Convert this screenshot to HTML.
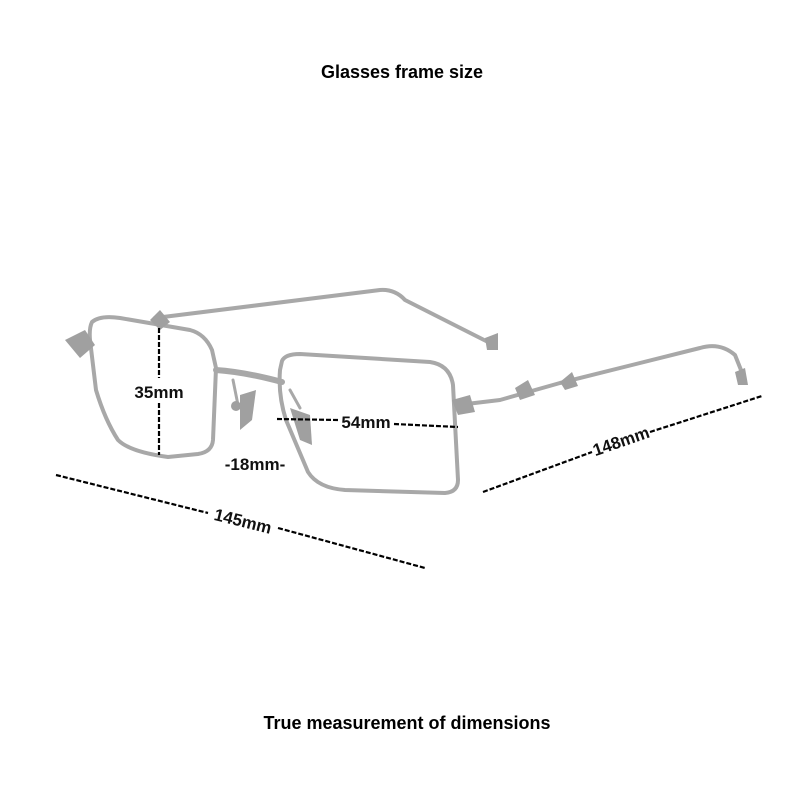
<!DOCTYPE html>
<html><head><style>
body{margin:0;background:#fff;}
svg{display:block;font-family:"Liberation Sans",sans-serif;font-weight:bold;}
</style></head><body>
<svg width="800" height="800" viewBox="0 0 800 800">
<text x="402" y="78" font-size="18" text-anchor="middle">Glasses frame size</text>
<text x="407" y="729" font-size="18" text-anchor="middle">True measurement of dimensions</text>
<g fill="none" stroke="#a8a8a8" stroke-width="4" stroke-linejoin="round" stroke-linecap="round">
<path d="M155,318 L380,290 Q395,289 405,300 L490,343"/>
<path d="M92,322 Q100,315 120,318 L190,330 Q205,334 212,350 L216,368 L213,440 Q212,452 198,454 L168,457 Q130,452 118,440 Q105,420 96,390 L90,340 Q89,328 92,322 Z"/>
<path d="M282,361 Q285,354 300,354 L430,362 Q450,365 453,385 L458,480 Q458,492 445,493 L345,490 Q318,488 308,472 L286,420 Q278,395 280,370 Z"/>
<path d="M216,370 Q245,372 282,382" stroke-width="6"/>
<path d="M458,405 L500,400 L560,383 L700,348 Q720,342 735,355 L745,380"/>
<path d="M233,380 L238,405" stroke-width="3"/>
<path d="M290,390 L300,408" stroke-width="3"/>
</g>
<g fill="#a0a0a0">
<path d="M65,340 L85,330 L95,345 L80,358 Z"/>
<path d="M150,320 L160,310 L170,322 L160,330 Z"/>
<path d="M240,395 L256,390 L252,420 L240,430 Z"/>
<path d="M290,408 L310,415 L312,445 L300,440 Z"/>
<circle cx="236" cy="406" r="5"/>
<path d="M485,338 L498,333 L498,350 L487,350 Z"/>
<path d="M452,400 L470,395 L475,412 L458,415 Z"/>
<path d="M515,388 L528,380 L535,395 L520,400 Z"/>
<path d="M560,382 L572,372 L578,386 L565,390 Z"/>
<path d="M735,372 L745,368 L748,385 L738,385 Z"/>
</g>
<g stroke="#000" stroke-width="2.2" stroke-dasharray="5,2" fill="none">
<line x1="159" y1="328" x2="159" y2="378"/>
<line x1="159" y1="403" x2="159" y2="455"/>
<line x1="277" y1="419" x2="338" y2="420"/>
<line x1="394" y1="424" x2="458" y2="427"/>
<line x1="56" y1="475" x2="208" y2="513"/>
<line x1="278" y1="528" x2="425" y2="568"/>
<line x1="483" y1="492" x2="592" y2="452"/>
<line x1="650" y1="432" x2="762" y2="396"/>
</g>
<g font-size="17" fill="#111">
<text x="159" y="398" text-anchor="middle">35mm</text>
<text x="366" y="428" text-anchor="middle">54mm</text>
<text x="255" y="470" text-anchor="middle">-18mm-</text>
<text x="243" y="527" text-anchor="middle" transform="rotate(14 243 521)">145mm</text>
<text x="621" y="447" text-anchor="middle" transform="rotate(-19 621 441)">148mm</text>
</g>
</svg>
</body></html>
